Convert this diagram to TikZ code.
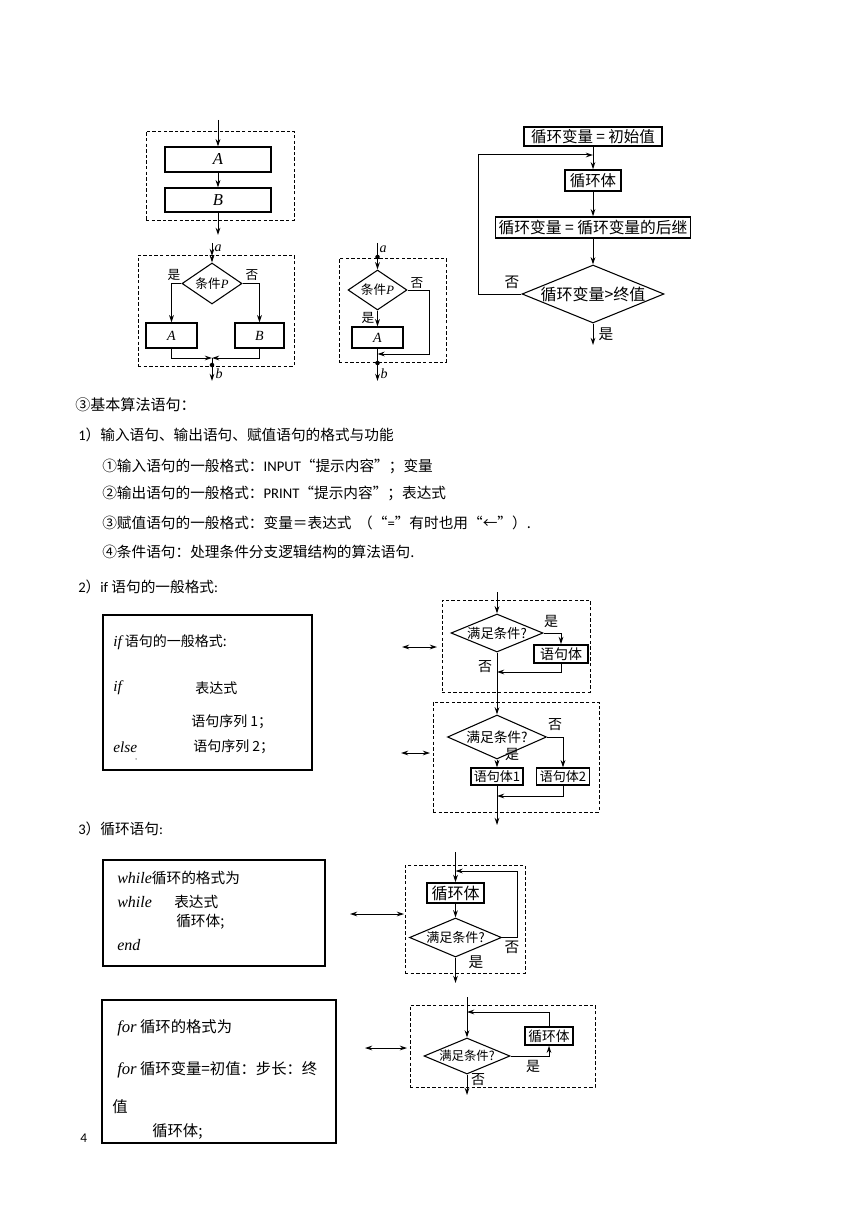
\documentclass[tikz,border=0pt]{standalone}
\usepackage{fontspec}
\setmainfont{Liberation Serif}
\newfontfamily\cjk{Noto Sans CJK SC}
\newfontfamily\carl{Carlito}
\usetikzlibrary{arrows.meta,shapes.geometric}
\begin{document}
\begin{tikzpicture}[x=0.75pt,y=-0.75pt,
  px/.style 2 args={minimum width=#1*0.75pt, minimum height=#2*0.75pt},
  cbox/.style={draw, line width=0.9pt, inner sep=0pt},
  dbox/.style={draw, line width=0.7pt, dash pattern=on 2.6pt off 1.6pt, inner sep=0pt},
  dia/.style={draw, diamond, line width=0.8pt, inner sep=0pt},
  arr/.style={line width=0.75pt, -{Stealth[length=5.5pt,width=3.6pt]}},
  dbl/.style={line width=0.75pt, {Stealth[length=5.5pt,width=3.6pt]}-{Stealth[length=5.5pt,width=3.6pt]}},
  jdot/.style={circle, fill, inner sep=0pt, minimum size=3.4pt},
  lbl/.style={inner sep=0pt, font=\cjk\fontsize{9.5}{10}\selectfont},
  ilbl/.style={inner sep=0pt, font=\rmfamily\itshape\fontsize{10.5}{11}\selectfont},
  bt/.style={anchor=west, inner sep=0pt, font=\cjk\fontsize{11}{13}\selectfont},
  it/.style={anchor=west, inner sep=0pt, font=\cjk\fontsize{10.5}{12}\selectfont}
]
\useasboundingbox (0,0) rectangle (860,1216);

% ---------- sequence structure ----------
\node[dbox, px={148}{89}] (seqd) at (220,175.5) {};
\node[cbox, px={106}{25}, font=\rmfamily\itshape\fontsize{12.5}{13}\selectfont] (sA) at (218,159.5) {A};
\node[cbox, px={106}{24}, font=\rmfamily\itshape\fontsize{12.5}{13}\selectfont] (sB) at (218,200) {B};
\coordinate (sqin) at (218,120);
\coordinate (sqout) at (218,235);
\draw[arr] (sqin) -- (sA);
\draw[arr] (sA) -- (sB);
\draw[arr] (sB) -- (sqout);

% ---------- if-else structure ----------
\node[dbox, px={156}{111}] (ifd1) at (216,310.5) {};
\node[dia, px={60}{41}, shape aspect=1.46, font=\cjk\fontsize{9.5}{10}\selectfont] (c1) at (212,283.5) {条件{\rmfamily\itshape P}};
\coordinate (a1) at (212,243);
\coordinate (a1b) at (212,256);
\draw[arr] (a1) -- (a1b);
\draw[arr] (a1b) -- (c1);
\node[ilbl] (a1l) at (218,248) {a};
\node[cbox, px={51}{25}, font=\rmfamily\itshape\fontsize{10.5}{11}\selectfont] (cA) at (171.5,335.5) {A};
\node[cbox, px={49}{25}, font=\rmfamily\itshape\fontsize{10.5}{11}\selectfont] (cB) at (259.5,335.5) {B};
\draw[arr] (c1.west) -| (cA.north);
\draw[arr] (c1.east) -| (cB.north);
\node[lbl] (c1y) at (174,275) {是};
\node[lbl] (c1n) at (252,275) {否};
\coordinate (m1) at (212,358);
\draw[arr] (cA.south) |- (m1);
\draw[arr] (cB.south) |- (m1);
\node[jdot] (d1) at (212,365) {};
\coordinate (b1) at (212,381);
\draw[arr] (m1) -- (b1);
\node[ilbl] (b1l) at (219,374) {b};

% ---------- if structure ----------
\node[dbox, px={107}{104}] (ifd2) at (392.5,310) {};
\node[dia, px={59}{40}, shape aspect=1.475, font=\cjk\fontsize{9.5}{10}\selectfont] (c2) at (377.5,290) {条件{\rmfamily\itshape P}};
\coordinate (a2) at (377.5,243);
\node[jdot] (d2a) at (377.5,257) {};
\draw[arr] (a2) -- (c2);
\node[ilbl] (a2l) at (383,249) {a};
\node[cbox, px={51}{21}, font=\rmfamily\itshape\fontsize{10.5}{11}\selectfont] (c2A) at (377.5,337.5) {A};
\draw[arr] (c2) -- (c2A);
\node[lbl] (c2y) at (368,318) {是};
\coordinate (r2) at (429,354);
\coordinate (m2) at (377.5,354);
\draw[arr] (c2.east) -| (r2) -- (m2);
\node[lbl] (c2n) at (417,283) {否};
\node[jdot] (d2b) at (377.5,363) {};
\coordinate (b2) at (377.5,381);
\draw[arr] (c2A) -- (b2);
\node[ilbl] (b2l) at (384,374) {b};

% ---------- for loop flowchart (top right) ----------
\node[cbox, line width=1.1pt, px={138}{19}, font=\cjk\fontsize{11.6}{12}\selectfont] (f1) at (593,136.5) {循环变量 = 初始值};
\node[cbox, line width=1.1pt, px={56}{21}, font=\cjk\fontsize{11.6}{12}\selectfont] (f2) at (593,180.5) {循环体};
\node[cbox, line width=1.1pt, px={195}{21}, font=\cjk\fontsize{11.8}{12}\selectfont] (f3) at (593,227.5) {循环变量 = 循环变量的后继};
\node[dia, px={142}{58}, shape aspect=2.45, font=\cjk\fontsize{12}{13}\selectfont] (f4) at (593,294) {循环变量>终值};
\coordinate (fj) at (593,155);
\coordinate (fl) at (478,155);
\draw[arr] (f1) -- (f2);
\draw[arr] (f4.west) -| (fl) -- (fj);
\draw[arr] (f2) -- (f3);
\draw[arr] (f3) -- (f4);
\coordinate (fo) at (593,345);
\draw[arr] (f4) -- (fo);
\node[lbl, font=\cjk\fontsize{11}{12}\selectfont] (f4y) at (606,334) {是};
\node[lbl, font=\cjk\fontsize{11}{12}\selectfont] (f4n) at (512,282) {否};

% ---------- text ----------
\node[bt, font=\cjk\fontsize{11.3}{13}\selectfont] (t1) at (75,405) {③基本算法语句：};
\node[bt] (t2) at (78,435) {{\carl 1}）输入语句、输出语句、赋值语句的格式与功能};
\node[bt] (t3) at (102,466) {①输入语句的一般格式：{\carl INPUT}“提示内容”；变量};
\node[bt] (t4) at (102,493) {②输出语句的一般格式：{\carl PRINT}“提示内容”；表达式};
\node[bt] (t5) at (102,523) {③赋值语句的一般格式：变量＝表达式\ \ （“{\carl =}”有时也用“←”）.};
\node[bt] (t6) at (102,552) {④条件语句：处理条件分支逻辑结构的算法语句.};
\node[bt] (t7) at (78,587) {{\carl 2}）{\carl if} 语句的一般格式{\carl :}};
\node[bt] (t8) at (78,829) {{\carl 3}）循环语句{\carl :}};

% ---------- if text box ----------
\node[cbox, line width=1pt, px={209}{155}] (ifbox) at (207.5,692.5) {};
\node[it] (if1) at (113,642) {{\rmfamily\itshape\fontsize{11.5}{12}\selectfont if}\ 语句的一般格式:};
\node[it] (if2) at (113,688) {\rmfamily\itshape\fontsize{11.5}{12}\selectfont if};
\node[it] (if3) at (195,688) {表达式};
\node[it] (if4) at (191,722) {语句序列 1；};
\node[it] (if5) at (113,747) {\rmfamily\itshape\fontsize{11.5}{12}\selectfont else};
\node[it] (if6) at (193,747) {语句序列 2；};
\node[it, font=\rmfamily\fontsize{5}{5}\selectfont] (if7) at (135,760) {,};

% ---------- if flowcharts ----------
\node[dbox, px={148}{92}] (D1) at (516,646) {};
\node[dia, px={92}{38}, shape aspect=2.42, font=\cjk\fontsize{10}{11}\selectfont] (I1) at (497,633) {满足条件?};
\coordinate (i1in) at (497,592);
\draw[arr] (i1in) -- (I1);
\node[cbox, line width=1.4pt, px={54}{18}, font=\cjk\fontsize{10.5}{11}\selectfont] (S1) at (561,654) {语句体};
\draw[arr] (I1.east) -| (S1.north);
\coordinate (j1) at (497,672);
\draw[arr] (S1.south) |- (j1);
\node[lbl, font=\cjk\fontsize{10.5}{11}\selectfont] (I1y) at (551,621) {是};
\node[lbl, font=\cjk\fontsize{10.5}{11}\selectfont] (I1n) at (485,667) {否};

\node[dbox, px={166}{110}] (D2) at (516,757) {};
\node[dia, px={99}{44}, shape aspect=2.25, font=\cjk\fontsize{10.3}{11}\selectfont] (I2) at (497,737) {满足条件?};
\draw[arr] (I1) -- (I2);
\node[cbox, px={52}{17}, font=\cjk\fontsize{9.8}{10}\selectfont] (T1) at (497,776.5) {语句体1};
\node[cbox, px={53}{17}, font=\cjk\fontsize{9.8}{10}\selectfont] (T2) at (563,776.5) {语句体2};
\draw[arr] (I2) -- (T1);
\draw[arr] (I2.east) -| (T2.north);
\coordinate (j2) at (497,796);
\draw[arr] (T2.south) |- (j2);
\coordinate (i2out) at (497,825);
\draw[arr] (T1) -- (i2out);
\node[lbl, font=\cjk\fontsize{10.5}{11}\selectfont] (I2y) at (512,754) {是};
\node[lbl, font=\cjk\fontsize{10.5}{11}\selectfont] (I2n) at (555,725) {否};
\coordinate (da1) at (402,647);
\coordinate (db1) at (437,647);
\draw[dbl] (da1) -- (db1);
\coordinate (da2) at (401,753);
\coordinate (db2) at (430,753);
\draw[dbl] (da2) -- (db2);

% ---------- while ----------
\node[cbox, line width=1pt, px={222}{106}] (wtext) at (214,913) {};
\node[bt] (w1) at (117,878) {{\rmfamily\itshape\fontsize{12}{13}\selectfont while}循环的格式为};
\node[bt] (w2) at (117,902) {\rmfamily\itshape\fontsize{12}{13}\selectfont while};
\node[bt] (w3) at (174,902) {表达式};
\node[bt] (w4) at (176,922) {循环体;};
\node[bt] (w5) at (117,945) {\rmfamily\itshape\fontsize{12}{13}\selectfont end};

\node[dbox, px={120}{108}] (WD) at (465,919) {};
\node[cbox, line width=1.4pt, px={57}{20}, font=\cjk\fontsize{12}{13}\selectfont] (W1) at (455.5,893) {循环体};
\node[dia, px={92}{39}, shape aspect=2.36, font=\cjk\fontsize{9.8}{10}\selectfont] (W2) at (455.5,937.5) {满足条件?};
\coordinate (win) at (455.5,852);
\draw[arr] (win) -- (W1);
\draw[arr] (W1) -- (W2);
\coordinate (wr) at (517,871);
\coordinate (wj) at (455.5,871);
\draw[arr] (W2.east) -| (wr) -- (wj);
\coordinate (wout) at (455.5,983);
\draw[arr] (W2) -- (wout);
\node[lbl, font=\cjk\fontsize{11}{12}\selectfont] (W2n) at (512,947) {否};
\node[lbl, font=\cjk\fontsize{11}{12}\selectfont] (W2y) at (476,962) {是};
\coordinate (da3) at (350,914);
\coordinate (db3) at (404,914);
\draw[dbl] (da3) -- (db3);

% ---------- for ----------
\node[cbox, line width=1pt, px={234}{143}] (ftext) at (219,1071.5) {};
\node[bt, font=\cjk\fontsize{11.5}{13}\selectfont] (fo1) at (117,1028) {{\rmfamily\itshape\fontsize{12.5}{13}\selectfont for}\ 循环的格式为};
\node[bt, font=\cjk\fontsize{11.5}{13}\selectfont] (fo2) at (117,1070) {{\rmfamily\itshape\fontsize{12.5}{13}\selectfont for}\ 循环变量=初值：步长：终};
\node[bt, font=\cjk\fontsize{11.5}{13}\selectfont] (fo3) at (112,1107) {值};
\node[bt, font=\cjk\fontsize{11.5}{13}\selectfont] (fo4) at (152,1132) {循环体;};
\node[bt, font=\carl\fontsize{10}{11}\selectfont] (pg) at (80,1138) {4};

\node[dbox, px={185}{82}] (RD) at (502.5,1046) {};
\node[dia, px={86}{36}, shape aspect=2.39, font=\cjk\fontsize{9.3}{10}\selectfont] (R1) at (467,1056) {满足条件?};
\node[cbox, line width=1.1pt, px={48}{18}, font=\cjk\fontsize{10.3}{11}\selectfont] (R2) at (549,1036) {循环体};
\coordinate (rin) at (467,997);
\draw[arr] (rin) -- (R1);
\draw[arr] (R1.east) -| (R2.south);
\coordinate (rj) at (467,1012);
\draw[arr] (R2.north) |- (rj);
\coordinate (rout) at (467,1095);
\draw[arr] (R1) -- (rout);
\node[lbl, font=\cjk\fontsize{10.5}{11}\selectfont] (R1y) at (533,1066) {是};
\node[lbl, font=\cjk\fontsize{10.5}{11}\selectfont] (R1n) at (478,1080) {否};
\coordinate (da4) at (365,1048);
\coordinate (db4) at (407,1048);
\draw[dbl] (da4) -- (db4);
\end{tikzpicture}
\end{document}
